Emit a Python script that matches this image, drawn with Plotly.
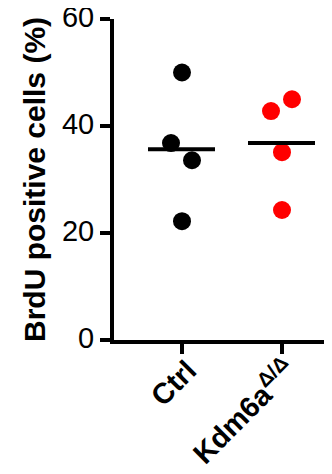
import plotly.graph_objects as go

groups = ["Ctrl", "Kdm6a"]
tick_labels = ["Ctrl", "Kdm6a<sup>Δ/Δ</sup>"]
ctrl_values = [50.0, 36.8, 33.6, 22.2]
kdm_values = [42.8, 45.0, 35.1, 24.3]
ctrl_jitter = [0.0, -0.11, 0.10, 0.0]
kdm_jitter = [-0.11, 0.10, 0.0, 0.0]
colors = ["black", "#ff0000"]
y_ticks = [0, 20, 40, 60]

fig = go.Figure()
series = [ctrl_values, kdm_values]
jitters = [ctrl_jitter, kdm_jitter]
for i, (vals, jit) in enumerate(zip(series, jitters)):
    fig.add_trace(go.Scatter(
        x=[i + j for j in jit], y=vals, mode="markers",
        marker=dict(size=18, color=colors[i], line=dict(width=0)),
        showlegend=False, cliponaxis=False))
    m = sum(vals) / len(vals)
    fig.add_trace(go.Scatter(
        x=[i - 0.34, i + 0.33], y=[m, m], mode="lines",
        line=dict(color="black", width=4), showlegend=False))

fig.update_layout(
    width=332, height=474,
    margin=dict(l=106, r=8, t=11, b=142),
    plot_bgcolor="white", paper_bgcolor="white",
    font=dict(family="Liberation Sans, Arial, sans-serif", color="black"),
)
fig.update_xaxes(
    range=[-0.68, 1.5], tickvals=[0, 1], ticktext=tick_labels,
    tickangle=-45, ticks="outside", ticklen=10, tickwidth=4, tickcolor="black",
    showline=True, linewidth=4, linecolor="black", showgrid=False, zeroline=False,
    automargin=False, ticklabeloverflow="allow",
    ticklabelstandoff=-12, ticklabelshift=6,
    tickfont=dict(size=29, family="Liberation Sans, Arial, sans-serif", weight="bold"),
)
fig.update_yaxes(
    range=[0, 60], tickvals=y_ticks, ticks="outside", ticklen=10, tickwidth=4,
    tickcolor="black", showline=True, linewidth=4, linecolor="black",
    showgrid=False, zeroline=False, automargin=False, ticklabeloverflow="allow",
    ticklabelshift=-2,
    tickfont=dict(size=29),
    title=dict(text="BrdU positive cells (%)", standoff=8,
               font=dict(size=30, weight="bold")),
)

fig.write_html("out.html")
